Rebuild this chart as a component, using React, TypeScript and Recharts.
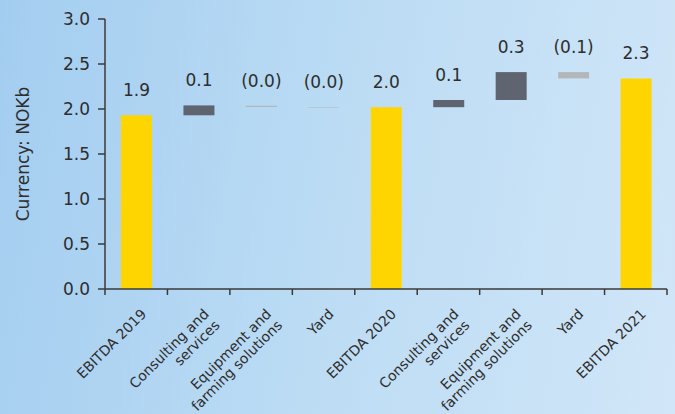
import React from 'react';
import { BarChart, Bar, XAxis, YAxis, Cell, LabelList, Label } from 'recharts';

const categories = [
  'EBITDA 2019',
  'Consulting and\nservices',
  'Equipment and\nfarming solutions',
  'Yard',
  'EBITDA 2020',
  'Consulting and\nservices',
  'Equipment and\nfarming solutions',
  'Yard',
  'EBITDA 2021',
];
const lowValues = [0, 1.93, 2.022, 2.016, 0, 2.02, 2.1, 2.34, 0];
const highValues = [1.93, 2.04, 2.036, 2.022, 2.02, 2.1, 2.41, 2.41, 2.34];
const valueLabels = ['1.9', '0.1', '(0.0)', '(0.0)', '2.0', '0.1', '0.3', '(0.1)', '2.3'];
const kinds = ['total', 'up', 'down', 'down', 'total', 'up', 'up', 'down', 'total'];
const yTicks = [0, 0.5, 1, 1.5, 2, 2.5, 3];

const COLORS: Record<string, string> = { total: '#FFD500', up: '#5E6570', down: '#B4B7BA' };
const FONT = '"DejaVu Sans", Verdana, sans-serif';
const TEXT = '#2E2E2E';
const AXIS = '#3A3A3A';

const W = 675;
const H = 414;
const MARGIN = { top: 19, right: 8, bottom: 0, left: 0 };
const YW = 105;
const BAND = (W - YW - MARGIN.right) / categories.length;

const data = categories.map((c, i) => ({
  name: c,
  base: lowValues[i],
  delta: highValues[i] - lowValues[i],
  label: valueLabels[i],
  kind: kinds[i],
}));

function XTick(props: any) {
  const { x, y, payload, index } = props;
  const lines = String(payload.value).split('\n');
  const last = index === categories.length - 1;
  return (
    <g>
      <line x1={x - BAND / 2} y1={y} x2={x - BAND / 2} y2={y + 6} stroke={AXIS} strokeWidth={1.5} />
      {last && <line x1={x + BAND / 2} y1={y} x2={x + BAND / 2} y2={y + 6} stroke={AXIS} strokeWidth={1.5} />}
      <text
        transform={`translate(${x + 11},${y + 26}) rotate(-45)`}
        textAnchor="end"
        fontSize={14}
        fontFamily={FONT}
        fill={TEXT}
      >
        {lines.map((l, i) => (
          <tspan key={i} x={0} dy={i === 0 ? 0 : 15.5}>
            {l}
          </tspan>
        ))}
      </text>
    </g>
  );
}

function ValueLabel(props: any) {
  const { x, y, width, value } = props;
  return (
    <text x={x + width / 2} y={y - 19} textAnchor="middle" fontSize={17} fontFamily={FONT} fill={TEXT}>
      {value}
    </text>
  );
}

export default function App() {
  return (
    <div
      style={{
        position: 'fixed',
        left: 0,
        top: 0,
        width: W,
        height: H,
        background: 'linear-gradient(100deg, #A3CDF0 0%, #BCDCF4 50%, #D1E6F8 100%)',
      }}
    >
      <BarChart width={W} height={H} data={data} margin={MARGIN} barSize={31}>
        <XAxis
          dataKey="name"
          interval={0}
          tickLine={false}
          tickSize={0}
          tickMargin={0}
          axisLine={{ stroke: AXIS, strokeWidth: 1.5 }}
          tick={<XTick />}
          height={125}
        />
        <YAxis
          width={YW}
          domain={[0, 3]}
          ticks={yTicks}
          tickFormatter={(v: number) => v.toFixed(1)}
          tickSize={7}
          tickMargin={8}
          axisLine={{ stroke: AXIS, strokeWidth: 1.5 }}
          tickLine={{ stroke: AXIS, strokeWidth: 1.5 }}
          tick={{ fill: TEXT, fontSize: 17, fontFamily: FONT }}
        >
          <Label
            content={() => (
              <text
                x={23}
                y={154}
                transform="rotate(-90 23 154)"
                textAnchor="middle"
                dominantBaseline="central"
                fontSize={17}
                fontFamily={FONT}
                fill={TEXT}
              >
                Currency:  NOKb
              </text>
            )}
          />
        </YAxis>
        <Bar dataKey="base" stackId="w" fill="transparent" isAnimationActive={false} />
        <Bar dataKey="delta" stackId="w" isAnimationActive={false}>
          {data.map((d, i) => (
            <Cell key={i} fill={COLORS[d.kind]} />
          ))}
          <LabelList dataKey="label" content={<ValueLabel />} />
        </Bar>
      </BarChart>
    </div>
  );
}
